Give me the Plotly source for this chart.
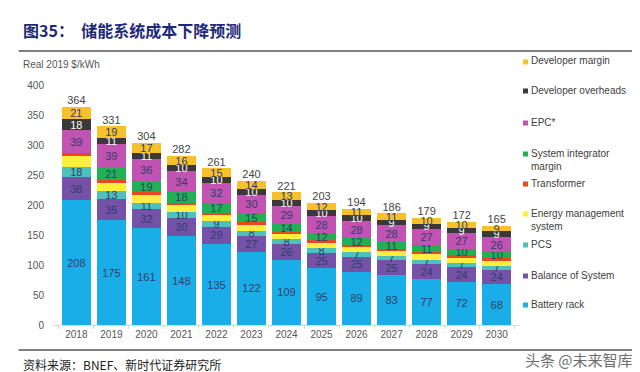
import plotly.graph_objects as go

years = ['2018', '2019', '2020', '2021', '2022', '2023', '2024', '2025', '2026', '2027', '2028', '2029', '2030']
battery_rack = [208, 175, 161, 148, 135, 122, 109, 95, 89, 83, 77, 72, 68]
balance_of_system = [38, 35, 32, 30, 29, 27, 26, 25, 25, 25, 24, 24, 24]
pcs = [18, 13, 11, 10, 9, 8, 8, 8, 7, 7, 7, 7, 7]
energy_mgmt = [17, 14, 13, 12, 11, 11, 9, 10, 9, 9, 11, 10, 9]
transformer = [5, 4, 4, 4, 3, 3, 3, 3, 3, 3, 3, 3, 3]
si_margin = [0, 21, 19, 18, 17, 15, 14, 12, 12, 11, 11, 10, 10]
epc = [39, 39, 36, 34, 32, 30, 29, 28, 28, 28, 27, 27, 26]
dev_overheads = [18, 11, 11, 10, 10, 10, 10, 10, 10, 9, 9, 9, 9]
dev_margin = [21, 19, 17, 16, 15, 14, 13, 12, 11, 11, 10, 10, 9]
totals = [364, 331, 304, 282, 261, 240, 221, 203, 194, 186, 179, 172, 165]

# (name, legend label lines, values, colour, show labels, label colour)
series = [
    ('Battery rack', ['Battery rack'], battery_rack, '#1AAEE8', True, '#2E3D6B'),
    ('Balance of System', ['Balance of System'], balance_of_system, '#7552A8', True, '#2E3D6B'),
    ('PCS', ['PCS'], pcs, '#4CC2BA', True, '#2E3D6B'),
    ('Energy management system', ['Energy management', 'system'], energy_mgmt, '#FFEE40', False, '#2E3D6B'),
    ('Transformer', ['Transformer'], transformer, '#E9481E', False, '#2E3D6B'),
    ('System integrator margin', ['System integrator', 'margin'], si_margin, '#22B055', True, '#2E3D6B'),
    ('EPC*', ['EPC*'], epc, '#C253B2', True, '#2E3D6B'),
    ('Developer overheads', ['Developer overheads'], dev_overheads, '#3B3838', True, '#FFFFFF'),
    ('Developer margin', ['Developer margin'], dev_margin, '#F7C12C', True, '#2E3D6B'),
]

# pixel geometry helpers
L, R, T, B = 44.5, 512.5, 77, 317
W, H = 640, 372
def px(x):
    return (x - L) / (R - L)
def py(y):
    return (B - y) / (B - T)

fig = go.Figure()
for name, _, vals, col, show, tcol in series:
    fig.add_trace(go.Bar(
        x=years, y=vals, name=name,
        marker=dict(color=col, line=dict(width=0)),
        text=[str(v) if (show and v) else '' for v in vals],
        textposition='inside', insidetextanchor='middle',
        constraintext='none', textangle=0,
        textfont=dict(family='Liberation Sans, Arial', size=11, color=tcol),
        showlegend=False, hoverinfo='x+y+name',
    ))

fig.add_trace(go.Scatter(
    x=years, y=totals, mode='text', text=[str(t) for t in totals],
    textposition='top center',
    textfont=dict(family='Liberation Sans, Arial', size=11, color='#444444'),
    showlegend=False, cliponaxis=False, hoverinfo='skip',
))

shapes = []
annotations = []

# manual legend (top to bottom)
legend_rows = [
    (54, 'Developer margin'), (83, 'Developer overheads'), (115, 'EPC*'),
    (146, 'System integrator margin'), (176, 'Transformer'),
    (206, 'Energy management system'), (237, 'PCS'), (268, 'Balance of System'),
    (297, 'Battery rack'),
]
lookup = {s[0]: s for s in series}
for ypx, name in legend_rows:
    s = lookup[name]
    shapes.append(dict(type='rect', xref='paper', yref='paper',
                       xsizemode='pixel', ysizemode='pixel',
                       xanchor=px(518), yanchor=py(ypx),
                       x0=-2.5, x1=2.5, y0=-2.5, y1=2.5,
                       fillcolor=s[3], line=dict(width=0)))
    annotations.append(dict(xref='paper', yref='paper', x=px(522), y=py(ypx - 1),
                            xanchor='left', yanchor='top' if len(s[1]) > 1 else 'middle',
                            text='<br>'.join(s[1]), showarrow=False, align='left',
                            yshift=7 if len(s[1]) > 1 else 0,
                            font=dict(family='Liberation Sans, Arial', size=10, color='#404040')))

# title, unit, source, watermark
annotations.append(dict(xref='paper', yref='paper', x=px(12), y=py(22), xanchor='left', yanchor='middle',
                        text='<b>图35：  储能系统成本下降预测</b>', showarrow=False,
                        font=dict(family='Noto Sans CJK SC', size=16, color='#1E2A78')))
annotations.append(dict(xref='paper', yref='paper', x=px(12), y=py(56), xanchor='left', yanchor='middle',
                        text='Real 2019 $/kWh', showarrow=False,
                        font=dict(family='Liberation Sans, Arial', size=10, color='#555555')))
annotations.append(dict(xref='paper', yref='paper', x=px(12), y=py(356), xanchor='left', yanchor='middle',
                        text='资料来源：BNEF、新时代证券研究所', showarrow=False,
                        font=dict(family='Noto Sans CJK SC', size=12, color='#222222')))
annotations.append(dict(xref='paper', yref='paper', x=px(628), y=py(351), xanchor='right', yanchor='middle',
                        text='头条 @未来智库', showarrow=False,
                        font=dict(family='Noto Sans CJK SC', size=15, color='#6E6E6E')))

shapes.append(dict(type='line', xref='paper', yref='paper', x0=px(10), x1=px(630), y0=py(43), y1=py(43),
                   line=dict(color='#555555', width=1.5)))
shapes.append(dict(type='line', xref='paper', yref='paper', x0=px(10), x1=px(630), y0=py(342), y1=py(342),
                   line=dict(color='#555555', width=1.5)))

fig.update_layout(
    width=W, height=H,
    margin=dict(l=L, r=W - R, t=T, b=H - B, pad=0),
    barmode='stack', bargap=0.19,
    paper_bgcolor='white', plot_bgcolor='white',
    font=dict(family='Liberation Sans, Arial', size=10, color='#555555'),
    shapes=shapes, annotations=annotations,
    showlegend=False,
    xaxis=dict(type='category', showgrid=False, showline=True, linecolor='#D8D8D8', linewidth=1,
               ticks='outside', tickson='boundaries', ticklen=3, tickcolor='#D8D8D8',
               tickfont=dict(size=10, color='#555555'), fixedrange=True, automargin=False),
    yaxis=dict(range=[0, 400], dtick=50, showgrid=False, zeroline=False, showline=False,
               ticklabelstandoff=8, tickfont=dict(size=10, color='#555555'), fixedrange=True,
               automargin=False),
)

fig.write_html('out.html')
